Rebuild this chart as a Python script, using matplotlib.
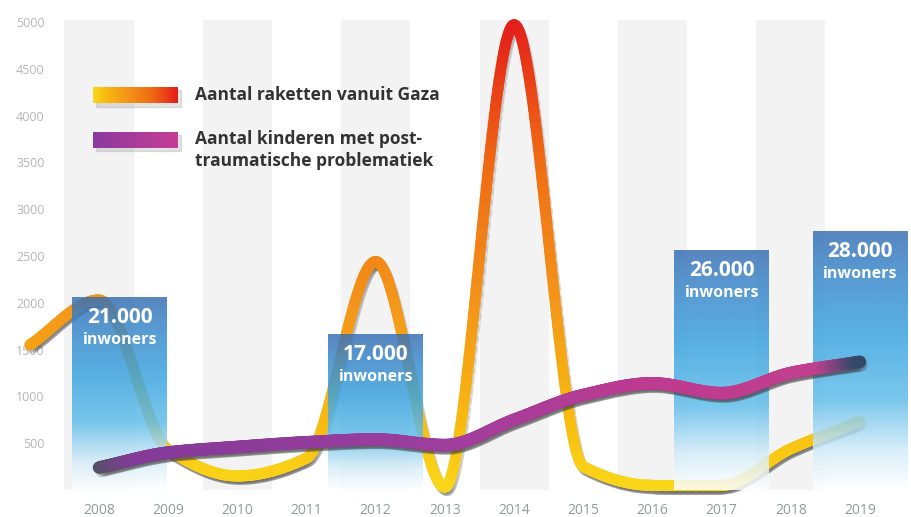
import numpy as np
import matplotlib.pyplot as plt
import matplotlib.patheffects as pe
from matplotlib.collections import LineCollection
from matplotlib.colors import LinearSegmentedColormap, Normalize
from matplotlib.patches import Rectangle

plt.rcParams['font.family'] = ['Open Sans', 'DejaVu Sans']

rocket_years = [2007, 2008, 2009, 2010, 2011, 2012, 2013, 2014, 2015, 2016, 2017, 2018, 2019]
rockets = [1550, 2030, 430, 150, 340, 2440, 30, 4970, 250, 50, 50, 440, 730]

kid_years = [2008, 2009, 2010, 2011, 2012, 2013, 2014, 2015, 2016, 2017, 2018, 2019]
kids = [240, 400, 460, 510, 540, 480, 750, 1015, 1140, 1035, 1250, 1370]

bar_pos = [2008.3, 2012, 2017, 2019]
bar_heights = [2060, 1660, 2560, 2760]
bar_labels = ['21.000', '17.000', '26.000', '28.000']
bar_width = 1.37

stripe_years = [2008, 2010, 2012, 2014, 2016, 2018]
stripe_top = 5020

xtick_years = list(range(2008, 2020))
ytick_vals = [500, 1000, 1500, 2000, 2500, 3000, 3500, 4000, 4500, 5000]

legend_labels = ['Aantal raketten vanuit Gaza',
                 'Aantal kinderen met post-\ntraumatische problematiek']


def pchip(x, y, n=60):
    # monotone cubic so the peaks stay on the data points
    x = np.asarray(x, float)
    y = np.asarray(y, float)
    h = np.diff(x)
    d = np.diff(y) / h
    m = np.zeros_like(y)
    for k in range(1, len(x) - 1):
        if d[k - 1] * d[k] > 0:
            w1 = 2 * h[k] + h[k - 1]
            w2 = h[k] + 2 * h[k - 1]
            m[k] = (w1 + w2) / (w1 / d[k - 1] + w2 / d[k])
    m[0] = d[0]
    m[-1] = d[-1]
    xs, ys = [], []
    for k in range(len(x) - 1):
        t = np.linspace(0, 1, n, endpoint=(k == len(x) - 2))
        h00 = 2 * t**3 - 3 * t**2 + 1
        h10 = t**3 - 2 * t**2 + t
        h01 = -2 * t**3 + 3 * t**2
        h11 = t**3 - t**2
        xs.append(x[k] + t * h[k])
        ys.append(h00 * y[k] + h10 * h[k] * m[k] + h01 * y[k + 1] + h11 * h[k] * m[k + 1])
    return np.concatenate(xs), np.concatenate(ys)


def segments(xs, ys):
    pts = np.column_stack([xs, ys]).reshape(-1, 1, 2)
    return np.concatenate([pts[:-1], pts[1:]], axis=1)


rocket_cmap = LinearSegmentedColormap.from_list(
    'rockets', [(0, '#f9d81a'), (0.15, '#f8ba10'), (0.4, '#f39519'),
                (0.7, '#ef6a13'), (1, '#e41e1a')])
kid_cmap = LinearSegmentedColormap.from_list(
    'kids', [(0, '#55506a'), (0.05, '#843a98'), (0.45, '#9c3e9e'),
             (0.72, '#bd3a90'), (0.95, '#c0408f'), (1, '#34486a')])
bar_cmap = LinearSegmentedColormap.from_list(
    'bars', [(0, '#ffffff'), (0.15, '#d3ecf8'), (0.35, '#62bdea'),
             (0.6, '#3ba4df'), (0.85, '#3b86c9'), (1, '#3a70b3')])

fig = plt.figure(figsize=(9.12, 5.17), dpi=100)
fig.patch.set_facecolor('white')
ax = fig.add_axes([0, 27 / 517, 1, 480 / 517])
ax.set_facecolor('white')

# background stripes
ax.bar(stripe_years, stripe_top, width=1, color='#f3f3f3', zorder=0)

shadow = [pe.SimpleLineShadow(offset=(1.5, -2.5), shadow_color='#444444', alpha=0.13), pe.Normal()]

# rockets line
rx, ry = pchip(rocket_years, rockets)
lc = LineCollection(segments(rx, ry), cmap=rocket_cmap, norm=Normalize(0, 5000),
                    linewidths=8, capstyle='round', joinstyle='round', zorder=2)
lc.set_array((ry[:-1] + ry[1:]) / 2)
lc.set_path_effects(shadow)
lc.set_clip_on(False)
ax.add_collection(lc)

# population bars with vertical gradient
grad = np.linspace(0, 1, 256).reshape(-1, 1)
for x, h, lab in zip(bar_pos, bar_heights, bar_labels):
    ax.imshow(grad, extent=[x - bar_width / 2, x + bar_width / 2, 0, h], origin='lower',
              cmap=bar_cmap, aspect='auto', alpha=0.85, zorder=3)
    ax.annotate(lab, (x, h), xytext=(0, -14.5), textcoords='offset points',
                ha='center', va='center', color='white', fontsize=15, fontweight='bold', zorder=6)
    ax.annotate('inwoners', (x, h), xytext=(0, -30.5), textcoords='offset points',
                ha='center', va='center', color='white', fontsize=11.5, fontweight='bold', zorder=6)

# children line
kx, ky = pchip(kid_years, kids)
lc2 = LineCollection(segments(kx, ky), cmap=kid_cmap, norm=Normalize(2008, 2019),
                     linewidths=9, capstyle='round', joinstyle='round', zorder=4)
lc2.set_array((kx[:-1] + kx[1:]) / 2)
lc2.set_path_effects(shadow)
ax.add_collection(lc2)

ax.set_xlim(2008 - 99 / 69.18, 2019 + 52 / 69.18)
ax.set_ylim(0, 480 / 0.0936)
ax.set_xticks(xtick_years)
ax.set_xticklabels([str(y) for y in xtick_years])
ax.set_yticks(ytick_vals)
ax.set_yticklabels([str(v) for v in ytick_vals])
ax.tick_params(axis='y', length=0, pad=-32, labelsize=9, labelcolor='#b5b5b5')
ax.tick_params(axis='x', length=0, pad=9, labelsize=10, labelcolor='#8e9c9c')
for s in ax.spines.values():
    s.set_visible(False)

# legend swatches
sw = np.linspace(0, 1, 256).reshape(1, -1)
purple_cmap = LinearSegmentedColormap.from_list('purple', ['#8b3aa0', '#c63d95'])
for yb, cm in [(0.801, rocket_cmap), (0.714, purple_cmap)]:
    fig.patches.append(Rectangle((0.105, yb - 0.007), 0.093, 0.031, transform=fig.transFigure,
                                 color='#666666', alpha=0.18, zorder=1))
    sax = fig.add_axes([0.102, yb, 0.093, 0.031])
    sax.set_zorder(2)
    sax.imshow(sw, cmap=cm, aspect='auto')
    sax.axis('off')

fig.text(0.214, 1 - 95 / 517, legend_labels[0], ha='left', va='center',
         fontsize=12.5, fontweight='bold', color='#333333')
fig.text(0.214, 1 - 150 / 517, legend_labels[1], ha='left', va='center',
         fontsize=12.5, fontweight='bold', color='#333333', linespacing=1.25)

fig.savefig('out.png', dpi=100)
